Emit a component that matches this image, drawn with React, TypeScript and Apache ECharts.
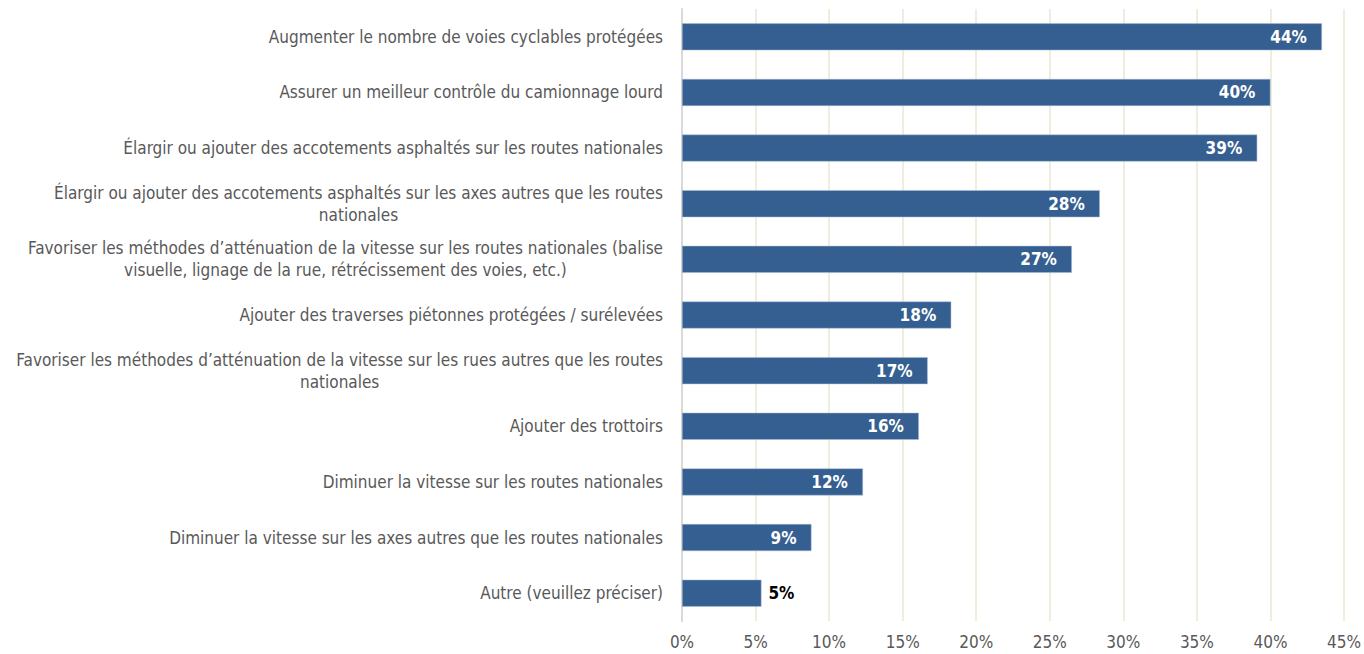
import React, { useEffect, useRef } from "react";
import * as echarts from "echarts";

const categories = [
  "Augmenter le nombre de voies cyclables protégées",
  "Assurer un meilleur contrôle du camionnage lourd",
  "Élargir ou ajouter des accotements asphaltés sur les routes nationales",
  "Élargir ou ajouter des accotements asphaltés sur les axes autres que les routes\nnationales",
  "Favoriser les méthodes d’atténuation de la vitesse sur les routes nationales (balise\nvisuelle, lignage de la rue, rétrécissement des voies, etc.)",
  "Ajouter des traverses piétonnes protégées / surélevées",
  "Favoriser les méthodes d’atténuation de la vitesse sur les rues autres que les routes\nnationales",
  "Ajouter des trottoirs",
  "Diminuer la vitesse sur les routes nationales",
  "Diminuer la vitesse sur les axes autres que les routes nationales",
  "Autre (veuillez préciser)",
];
const values = [43.5, 40.0, 39.1, 28.4, 26.5, 18.3, 16.7, 16.1, 12.3, 8.8, 5.4];
const labelsInside = [true, true, true, true, true, true, true, true, true, true, false];
const xTicks = [0, 5, 10, 15, 20, 25, 30, 35, 40, 45];

const FONT = "'Liberation Sans Narrow', 'Arial Narrow', 'DejaVu Sans Condensed', sans-serif";

export default function App() {
  const ref = useRef<HTMLDivElement>(null);
  useEffect(() => {
    document.body.style.margin = "0";
    const chart = echarts.init(ref.current!, null, { renderer: "svg" });
    const cats = [...categories].reverse();
    const vals = [...values].reverse();
    const ins = [...labelsInside].reverse();
    chart.setOption({
      animation: false,
      grid: { left: 682, right: 19, top: 9, bottom: 33, containLabel: false },
      xAxis: {
        type: "value",
        min: xTicks[0],
        max: xTicks[xTicks.length - 1],
        interval: 5,
        axisLine: { show: false },
        axisTick: { show: false },
        splitLine: { show: true, lineStyle: { color: "#EEEEDD", width: 2 } },
        axisLabel: {
          formatter: (v: number) => v + "%",
          color: "#595959",
          fontSize: 17,
          fontFamily: FONT,
          margin: 12,
        },
      },
      yAxis: {
        type: "category",
        data: cats,
        axisLine: { show: true, lineStyle: { color: "#D9D9D9", width: 2 } },
        axisTick: { show: false },
        axisLabel: {
          align: "right",
          margin: 19,
          color: "#595959",
          fontSize: 17,
          fontFamily: FONT,
          lineHeight: 22,
          formatter: (v: string) =>
            v
              .split("\n")
              .map((l) => "{c|" + l + "}")
              .join("\n"),
          rich: {
            c: {
              align: "center",
              color: "#595959",
              fontSize: 17,
              fontFamily: FONT,
              lineHeight: 22,
            },
          },
        },
      },
      series: [
        {
          type: "bar",
          barWidth: 27,
          data: vals.map((v, i) => ({
            value: v,
            label: ins[i]
              ? {
                  show: true,
                  position: "insideRight",
                  distance: 15,
                  color: "#FFFFFF",
                }
              : {
                  show: true,
                  position: "right",
                  distance: 7,
                  color: "#000000",
                },
          })),
          itemStyle: { color: "#365F91", borderColor: "#A9BCD6", borderWidth: 0.5 },
          label: {
            fontWeight: "bold",
            fontSize: 17,
            fontFamily: FONT,
            formatter: (p: any) => Math.round(p.value) + "%",
          },
        },
      ],
    });
    return () => chart.dispose();
  }, []);
  return (
    <div
      ref={ref}
      style={{ position: "absolute", left: 0, top: 0, width: 1364, height: 654, background: "#fff" }}
    />
  );
}
